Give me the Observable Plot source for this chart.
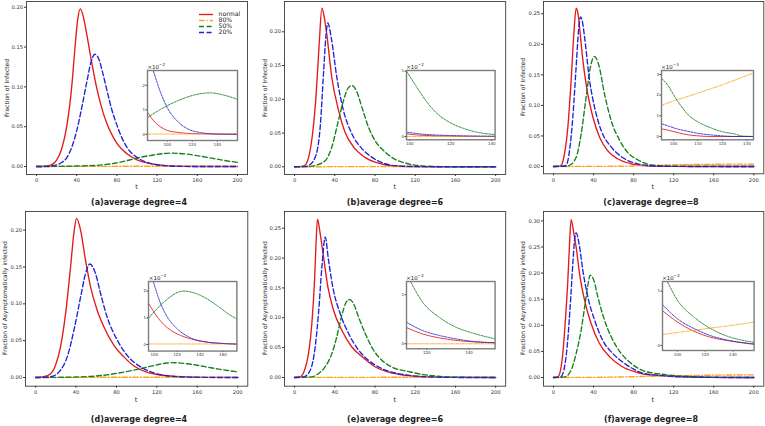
<!DOCTYPE html>
<html><head><meta charset="utf-8">
<script src="https://cdn.jsdelivr.net/npm/d3@7"></script>
<script src="https://cdn.jsdelivr.net/npm/@observablehq/plot@0.6"></script>
<style>
body{margin:0;background:#fff;font-family:"DejaVu Sans",sans-serif}
#root{position:relative;width:765px;height:426px;overflow:hidden;background:#fff}
.abs{position:absolute;white-space:nowrap;color:#222}
.title{font-weight:bold;font-size:8px;transform:translate(-50%,-50%)}
.ylab{font-size:6px;transform:translate(-50%,-50%) rotate(-90deg)}
.xlab{font-size:6.5px;transform:translate(-50%,-50%)}
.expo{font-size:5.5px}
.expo sup{font-size:4px;vertical-align:3px}
</style></head><body><div id="root"></div>
<script>
// ---------- labels ----------
const seriesNames = ["normal", "80%", "50%", "20%"];
const titles = ["(a)average degree=4","(b)average degree=6","(c)average degree=8","(d)average degree=4","(e)average degree=6","(f)average degree=8"];
const yLabels = ["Fraction of Infected","Fraction of Infected","Fraction of Infected","Fraction of Asymptomatically infected","Fraction of Asymptomatically infected","Fraction of Asymptomatically infected"];
const xTicks = [0, 40, 80, 120, 160, 200];
const yTicksA = [0, 0.05, 0.10, 0.15, 0.20];
const yTicksB = [0, 0.05, 0.10, 0.15, 0.20];
const yTicksC = [0, 0.05, 0.10, 0.15, 0.20, 0.25];
const yTicksD = [0, 0.05, 0.10, 0.15, 0.20];
const yTicksE = [0, 0.05, 0.10, 0.15, 0.20, 0.25];
const yTicksF = [0, 0.05, 0.10, 0.15, 0.20, 0.25, 0.30];
const insetExp = ["−2","−2","−3","−2","−2","−2"];

// ---------- main panel data [t, fraction] ----------
const aNormal = [[0,0],[8,0.0003],[12,0.001],[16,0.003],[20,0.008],[25,0.022],[30,0.05],[35,0.1],[38,0.145],[41,0.185],[43.5,0.198],[46,0.191],[50,0.166],[55,0.13],[60,0.098],[65,0.073],[70,0.054],[75,0.04],[80,0.029],[90,0.016],[100,0.0085],[110,0.0045],[120,0.0022],[130,0.0011],[140,0.0005],[160,0.0001],[200,0]];
const a80 = [[0,0],[40,0.0002],[80,0.0003],[120,0.0004],[160,0.0003],[200,0.0002]];
const a50 = [[0,0],[20,0.0002],[40,0.0007],[60,0.0015],[70,0.0027],[80,0.0045],[90,0.0075],[100,0.0105],[110,0.0132],[120,0.0153],[130,0.0166],[135,0.0168],[140,0.0166],[150,0.0155],[160,0.0136],[170,0.0115],[180,0.0092],[190,0.007],[200,0.0052]];
const a20 = [[0,0],[10,0.0002],[15,0.0008],[20,0.002],[25,0.005],[30,0.011],[35,0.024],[40,0.045],[45,0.074],[50,0.106],[54,0.13],[58,0.141],[62,0.135],[66,0.117],[70,0.096],[75,0.071],[80,0.052],[85,0.036],[90,0.024],[100,0.0115],[110,0.0052],[120,0.0022],[130,0.0009],[140,0.0003],[160,0],[200,0]];

const bNormal = [[0,0],[7,0.0005],[10,0.002],[14,0.014],[18,0.05],[21.5,0.108],[24.5,0.182],[27.2,0.235],[29.5,0.222],[32,0.197],[37,0.133],[44,0.082],[50,0.052],[60,0.027],[70,0.014],[80,0.0068],[90,0.003],[100,0.0012],[120,0.0003],[140,0],[200,0]];
const b80 = [[0,0],[50,0.0002],[100,0.0003],[150,0.0002],[200,0.0001]];
const b50 = [[0,0],[15,0.0005],[20.5,0.002],[30.5,0.009],[37,0.029],[43.7,0.069],[48.7,0.098],[53,0.116],[57,0.1205],[62,0.111],[67,0.088],[73.5,0.059],[80,0.039],[90,0.022],[100,0.011],[110,0.0055],[120,0.0025],[130,0.0011],[140,0.0005],[160,0.0001],[200,0]];
const b20 = [[0,0],[10,0.0005],[14,0.002],[20.5,0.014],[25.5,0.059],[28.8,0.138],[31.1,0.192],[33.1,0.213],[36.4,0.192],[42,0.133],[48.7,0.083],[57,0.049],[67,0.027],[77,0.014],[90,0.0045],[100,0.0015],[110,0.0007],[120,0.0004],[140,0.0001],[200,0]];

const cNormal = [[0,0],[5,0.0003],[7.7,0.002],[11,0.021],[14.3,0.064],[17.6,0.141],[20.3,0.217],[22.6,0.259],[24.5,0.25],[26,0.228],[29.3,0.174],[33.6,0.124],[39.3,0.081],[46,0.048],[54,0.026],[64,0.0126],[77.5,0.0044],[90,0.0016],[100,0.0006],[120,0.0002],[140,0],[200,0]];
const c80 = [[0,0],[40,0.0001],[60,0.0003],[80,0.0008],[96,0.0015],[110,0.0022],[120,0.0026],[132,0.003],[150,0.0034],[170,0.0037],[185,0.0038],[200,0.0037]];
const c50 = [[0,0],[12,0.0004],[16,0.002],[22.6,0.015],[27.6,0.053],[32.6,0.114],[36.9,0.163],[40.9,0.18],[44.9,0.168],[50.9,0.119],[57.6,0.075],[66,0.043],[74,0.023],[84,0.011],[90,0.0062],[97,0.0027],[105,0.0014],[115,0.0006],[125,0.0002],[140,0],[200,0]];
const c20 = [[0,0],[9,0.0004],[12.6,0.002],[16,0.026],[19.3,0.081],[22.6,0.163],[25,0.223],[27,0.245],[29,0.236],[31,0.212],[36,0.141],[41,0.097],[47.6,0.059],[57.6,0.032],[71,0.0126],[84,0.0044],[97.5,0.0011],[110,0.0004],[130,0.0001],[200,0]];

const dNormal = [[0,0],[8,0.001],[14.8,0.005],[19.8,0.017],[24.7,0.042],[29.7,0.087],[34.6,0.15],[37.9,0.196],[40.5,0.216],[44.5,0.2],[49.4,0.159],[54.4,0.123],[61,0.091],[67.5,0.069],[77.4,0.044],[87.3,0.028],[97,0.016],[110,0.0072],[123,0.0034],[135,0.0017],[150,0.0007],[170,0.0002],[200,0]];
const d80 = [[0,0],[50,0.0002],[100,0.0004],[150,0.0003],[200,0.0002]];
const d50 = [[0,0],[20,0.0002],[40,0.0007],[60,0.002],[80,0.0055],[90,0.008],[100,0.0108],[110,0.014],[120,0.0172],[130,0.0197],[135,0.0202],[140,0.02],[150,0.0187],[160,0.0166],[170,0.0141],[180,0.0116],[190,0.0095],[200,0.0077]];
const d20 = [[0,0],[14.8,0.001],[24.7,0.01],[31.3,0.028],[37.9,0.064],[44.5,0.109],[49.4,0.141],[53.7,0.154],[59.3,0.141],[64.3,0.114],[70.8,0.082],[80.7,0.051],[90.6,0.03],[103.8,0.0145],[117,0.0063],[130,0.0024],[150,0.0006],[170,0.0001],[200,0]];

const eNormal = [[0,0],[5.6,0.001],[9.9,0.012],[13.9,0.04],[17.2,0.09],[19.9,0.163],[21.5,0.23],[22.8,0.265],[25.5,0.241],[28.8,0.202],[33.1,0.152],[38.7,0.113],[47,0.079],[57,0.051],[67,0.035],[80,0.018],[93,0.0092],[110,0.0034],[126,0.0012],[140,0.0006],[160,0.0002],[200,0]];
const e80 = [[0,0],[50,0.0002],[100,0.0003],[150,0.0003],[200,0.0002]];
const e50 = [[0,0],[17.2,0.001],[23.8,0.0067],[30.5,0.018],[37.1,0.04],[42,0.068],[47,0.104],[51,0.125],[54.3,0.1306],[58.6,0.124],[63.6,0.1016],[70.2,0.074],[78.5,0.046],[86.8,0.029],[96.7,0.0175],[104,0.013],[112,0.0105],[118,0.0082],[126,0.0054],[134,0.0034],[142,0.0022],[152,0.001],[170,0.0003],[200,0]];
const e20 = [[0,0],[8.9,0.001],[15.6,0.012],[20.5,0.051],[23.8,0.107],[27.2,0.185],[30.5,0.235],[33.8,0.196],[38.7,0.146],[45.4,0.107],[53.6,0.074],[63.6,0.046],[73.5,0.029],[86.8,0.015],[100,0.0075],[110,0.0044],[118,0.0027],[126,0.0017],[134,0.001],[142,0.0005],[152,0.0002],[170,0],[200,0]];

const fNormal = [[0,0],[4.3,0.001],[7,0.014],[9.3,0.046],[11.6,0.103],[14.3,0.186],[16,0.256],[17.6,0.3025],[20.3,0.276],[22.6,0.25],[26,0.199],[31,0.148],[37.6,0.103],[45.9,0.065],[55.9,0.04],[67.6,0.022],[80.9,0.011],[90,0.0064],[100,0.0043],[110,0.0029],[120,0.0018],[135,0.0009],[155,0.0002],[180,0],[200,0]];
const f80 = [[0,0],[40,0.0002],[60,0.0008],[80,0.0015],[90,0.002],[100,0.0024],[120,0.0031],[140,0.0038],[155,0.0043],[170,0.0046],[200,0.005]];
const f50 = [[0,0],[11,0.001],[17.6,0.014],[22.6,0.046],[27.6,0.091],[31.6,0.142],[34.3,0.177],[36.6,0.196],[40.3,0.186],[44.3,0.154],[50.9,0.11],[57.6,0.078],[67.6,0.046],[77.5,0.027],[90,0.0125],[100,0.0083],[110,0.0058],[120,0.0037],[130,0.0024],[140,0.0016],[155,0.0006],[180,0.0001],[200,0]];
const f20 = [[0,0],[7,0.001],[10.3,0.014],[13.6,0.059],[16.6,0.135],[19.3,0.218],[21,0.263],[22.6,0.277],[26,0.25],[29.3,0.205],[34.3,0.154],[41,0.11],[49.2,0.071],[59.2,0.046],[70.9,0.027],[80,0.016],[90,0.0078],[100,0.005],[110,0.0034],[120,0.0021],[135,0.0011],[155,0.0003],[180,0],[200,0]];

// ---------- inset data [t, value in units of the inset exponent] ----------
const iaNormal = [[84.2,0.9],[89.3,0.54],[94.7,0.3],[100,0.16],[108,0.08],[116,0.04],[126.7,0.02],[140,0.01],[156,0.005]];
const ia80 = [[84.2,0.01],[100,0.01],[120,0.01],[140,0.01],[156,0.01]];
const ia50 = [[84.2,0.68],[94.7,1.02],[108,1.36],[121.3,1.6],[134.7,1.69],[145.3,1.6],[156,1.43]];
const ia20 = [[89,2.58],[94.7,1.7],[100,1.09],[108,0.54],[116,0.23],[126.7,0.07],[140,0.01],[156,0]];

const ibNormal = [[98.4,0.04],[105,0.02],[120,0.005],[141.6,0]];
const ib80 = [[98.4,0],[120,0],[141.6,0]];
const ib50 = [[98.4,1.0],[102.9,0.78],[107.8,0.55],[112.7,0.37],[119.2,0.22],[125.7,0.13],[132.2,0.07],[141.6,0.03]];
const ib20 = [[98.4,0.066],[105,0.04],[120,0.015],[141.6,0.005]];

const icNormal = [[95.1,0.37],[98,0.3],[102,0.18],[106,0.08],[110,0.03],[115,0],[132.7,0]];
const ic80 = [[95.1,1.5],[100,1.72],[105,1.9],[110,2.1],[115,2.3],[120,2.5],[125,2.72],[130,2.95],[132.7,3.06]];
const ic50 = [[95.1,2.8],[96.6,2.64],[101.6,1.72],[106.4,1.0],[110.4,0.68],[115.9,0.39],[120,0.23],[125.4,0.11],[128,0.02],[132.7,0]];
const ic20 = [[95.1,0.62],[98,0.5],[102,0.35],[106,0.25],[110,0.15],[115,0.08],[120,0.03],[125,0],[132.7,0]];

const idNormal = [[95,1.55],[102.7,1.03],[111.4,0.63],[123,0.34],[134.7,0.18],[152,0.06],[172.2,0.02]];
const id80 = [[95,0.02],[130,0.02],[172.2,0.02]];
const id50 = [[95,0.98],[108.5,1.59],[125.4,2.0],[140.5,1.84],[154.8,1.46],[163.6,1.18],[172.2,0.95]];
const id20 = [[99.3,2.34],[105.6,1.53],[111.4,1.03],[120,0.59],[131.7,0.25],[146.2,0.09],[163,0.03],[172.2,0.01]];

const ieNormal = [[110.4,0.33],[118,0.2],[125.9,0.12],[133.7,0.07],[141.6,0.04],[152.3,0.02]];
const ie80 = [[110.4,0],[152.3,0]];
const ie50 = [[112.4,1.26],[118,0.85],[125.9,0.54],[133.7,0.34],[141.6,0.22],[152.3,0.1]];
const ie20 = [[110.4,0.44],[118,0.27],[125.9,0.17],[133.7,0.1],[141.6,0.05],[152.3,0.02]];

const ifNormal = [[89.2,0.64],[100,0.43],[112,0.26],[124,0.15],[136,0.09],[155.3,0.02]];
const if80 = [[89.2,0.2],[100,0.24],[112,0.28],[124,0.32],[136,0.36],[148,0.4],[155.3,0.43]];
const if50 = [[92.8,1.17],[100,0.83],[112,0.52],[124,0.31],[136,0.17],[148,0.09],[155.3,0.06]];
const if20 = [[89.2,0.75],[100,0.49],[112,0.31],[124,0.18],[136,0.1],[155.3,0.03]];

const iaXTicks = [100,120,140], iaYTicks = [0,1,2];
const ibXTicks = [100,120,140], ibYTicks = [0,1];
const icXTicks = [100,110,120,130], icYTicks = [0,1,2,3];
const idXTicks = [100,120,140,160], idYTicks = [0,1,2];
const ieXTicks = [120,140], ieYTicks = [0,1];
const ifXTicks = [100,120,140], ifYTicks = [0,1];

// ---------- styling / layout ----------
const colors = {"normal":"#e31a1c","80%":"#ffa31a","50%":"#16801c","20%":"#1f22d6"};
function dash(n, main){
  if (n === "normal") return null;
  if (n === "80%") return main ? "5.5,2,1.3,2" : "3,1.2,0.8,1.2";
  return main ? "5,2.6" : "2.2,1.2";
}
const root = document.getElementById("root");
function place(el, x, y){ el.style.position="absolute"; el.style.left=x+"px"; el.style.top=y+"px"; root.appendChild(el); }
function html(cls, x, y, content){ const d=document.createElement("div"); d.className="abs "+cls; d.style.left=x+"px"; d.style.top=y+"px"; d.innerHTML=content; root.appendChild(d); }
function seriesMarks(sets, main){
  return seriesNames.map((n,i) => Plot.line(sets[i], {x:d=>d[0], y:d=>d[1], stroke:colors[n], strokeWidth: main?1.35:0.85, strokeDasharray: dash(n, main), curve:"monotone-x"}));
}

const panels = [
  {L:26,   R:247, T:1,   B:174,   ymin:-0.0100, ymax:0.2072, yt:yTicksA, sets:[aNormal,a80,a50,a20], yl:6,   },
  {L:284.3,R:505.5,T:1,  B:174,   ymin:-0.0114, ymax:0.2449, yt:yTicksB, sets:[bNormal,b80,b50,b20], yl:263.5},
  {L:542.7,R:763, T:1,   B:173.3, ymin:-0.0120, ymax:0.2701, yt:yTicksC, sets:[cNormal,c80,c50,c20], yl:522},
  {L:25,   R:247.3,T:211,B:385.7, ymin:-0.0118, ymax:0.2253, yt:yTicksD, sets:[dNormal,d80,d50,d20], yl:4},
  {L:284.3,R:505.5,T:211,B:385.7, ymin:-0.0146, ymax:0.2780, yt:yTicksE, sets:[eNormal,e80,e50,e20], yl:263.5},
  {L:542.7,R:763, T:211, B:385.7, ymin:-0.0167, ymax:0.3180, yt:yTicksF, sets:[fNormal,f80,f50,f20], yl:522}
];
const insets = [
  {L:147,  R:237,  T:69.5, B:139.5, x0:84.2, x1:156.2, y0:-0.253, y1:2.604, xt:iaXTicks, yt:iaYTicks, sets:[iaNormal,ia80,ia50,ia20]},
  {L:405.7,R:494.3,T:70,   B:139.3, x0:98.4, x1:141.6, y0:-0.05,  y1:1.01,  xt:ibXTicks, yt:ibYTicks, sets:[ibNormal,ib80,ib50,ib20]},
  {L:660.7,R:752.7,T:70,   B:139.3, x0:95.1, x1:132.7, y0:-0.16,  y1:3.19,  xt:icXTicks, yt:icYTicks, sets:[icNormal,ic80,ic50,ic20]},
  {L:148.3,R:236.7,T:280.7,B:350.3, x0:95,   x1:172.2, y0:-0.247, y1:2.36,  xt:idXTicks, yt:idYTicks, sets:[idNormal,id80,id50,id20]},
  {L:405.7,R:494.3,T:280.7,B:348,   x0:110.4,x1:152.3, y0:-0.102, y1:1.27,  xt:ieXTicks, yt:ieYTicks, sets:[ieNormal,ie80,ie50,ie20]},
  {L:661.7,R:753.3,T:280.7,B:349.7, x0:89.2, x1:155.3, y0:-0.092, y1:1.176, xt:ifXTicks, yt:ifYTicks, sets:[ifNormal,if80,if50,if20]}
];

panels.forEach((p, k) => {
  const mL=26, mR=3, mT=2, mB=14;
  const svg = Plot.plot({
    width: p.R-p.L+mL+mR, height: p.B-p.T+mT+mB,
    marginLeft:mL, marginRight:mR, marginTop:mT, marginBottom:mB,
    style:{background:"transparent", fontFamily:"DejaVu Sans, sans-serif", fontSize:"5.2px", color:"#333", overflow:"visible"},
    x:{domain:[-10,210], ticks:xTicks, tickFormat:d=>String(d), tickSize:2, tickPadding:2, label:null},
    y:{domain:[p.ymin,p.ymax], ticks:p.yt, tickFormat:d=>d.toFixed(2), tickSize:2, tickPadding:1.5, label:null},
    marks:[...seriesMarks(p.sets,true), Plot.frame({stroke:"#3c3c3c", strokeWidth:0.9})]
  });
  place(svg, p.L-mL, p.T-mT);
  const top = k < 3;
  html("title", (k%3===0?139:(k%3===1?395:651)), top?202:419, titles[k]);
  html("ylab", p.yl, (p.T+p.B)/2, yLabels[k]);
  html("xlab", (p.L+p.R)/2, top?187:400, "t");
});

insets.forEach((q, k) => {
  const mL=8, mR=1, mT=1, mB=8;
  const svg = Plot.plot({
    width: q.R-q.L+mL+mR, height: q.B-q.T+mT+mB,
    marginLeft:mL, marginRight:mR, marginTop:mT, marginBottom:mB,
    style:{background:"transparent", fontFamily:"DejaVu Sans, sans-serif", fontSize:"4px", color:"#333", overflow:"visible"},
    x:{domain:[q.x0,q.x1], ticks:q.xt, tickFormat:d=>String(d), tickSize:1.5, tickPadding:1, label:null},
    y:{domain:[q.y0,q.y1], ticks:q.yt, tickFormat:d=>String(d), tickSize:1.5, tickPadding:1, label:null},
    marks:[Plot.frame({fill:"white"}), ...seriesMarks(q.sets,false), Plot.frame({stroke:"#7d7d7d", strokeWidth:1.4})]
  });
  place(svg, q.L-mL, q.T-mT);
  html("expo", q.L+0.5, q.T-8, "×10<sup>"+insetExp[k]+"</sup>");
});

// legend (panel a)
const leg = Plot.plot({
  width:50, height:40, margin:0,
  style:{background:"transparent", fontFamily:"DejaVu Sans, sans-serif", fontSize:"6.2px", overflow:"visible"},
  x:{domain:[0,50], range:[0,50], axis:null},
  y:{type:"point", domain:seriesNames, range:[6,33], axis:null},
  marks:[
    ...seriesNames.map(n => Plot.ruleY([n], {y:d=>d, x1:3, x2:17, stroke:colors[n], strokeWidth:1.35, strokeDasharray:dash(n,true)})),
    Plot.text(seriesNames, {x:22, y:d=>d, text:d=>d, textAnchor:"start", fill:"#222"})
  ]
});
place(leg, 196, 3);
</script></body></html>
